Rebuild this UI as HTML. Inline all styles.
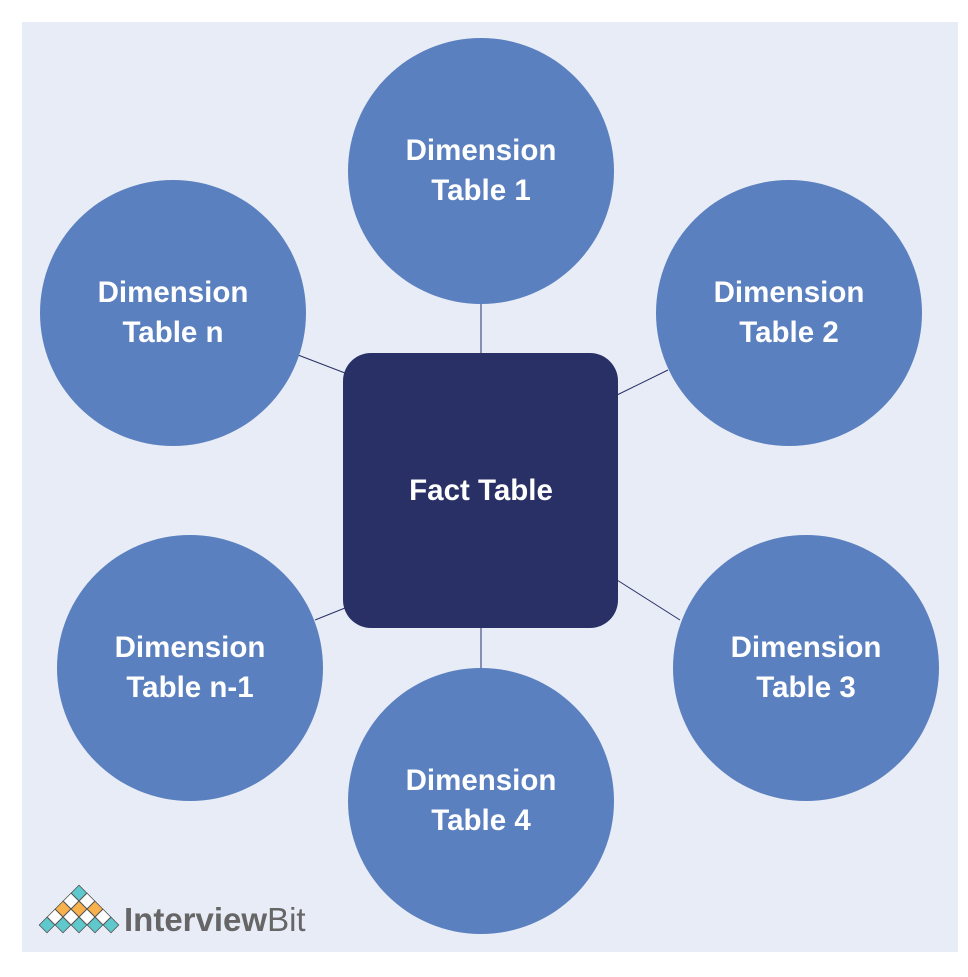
<!DOCTYPE html>
<html><head><style>
body{margin:0;background:#fff;width:968px;height:972px;overflow:hidden}
svg text{font-family:"Liberation Sans",sans-serif}
</style></head><body>
<svg width="968" height="972" viewBox="0 0 968 972">
<rect x="22" y="22" width="936" height="930" fill="#e8ecf6"/>
<g stroke="#283066" stroke-width="1">
<line x1="481" y1="300" x2="481" y2="355"/>
<line x1="481" y1="628" x2="481" y2="670"/>
<line x1="298" y1="355" x2="345" y2="373"/>
<line x1="668" y1="370" x2="617" y2="395"/>
<line x1="315" y1="620" x2="345" y2="608"/>
<line x1="617" y1="580" x2="680" y2="620"/>
</g>
<g fill="#5b80bf">
<circle cx="481" cy="171" r="133"/>
<circle cx="173" cy="313" r="133"/>
<circle cx="789" cy="313" r="133"/>
<circle cx="190" cy="668" r="133"/>
<circle cx="806" cy="668" r="133"/>
<circle cx="481" cy="801" r="133"/>
</g>
<rect x="343" y="353" width="275" height="275" rx="28" fill="#283066"/>
<g fill="#fff" font-size="29.5" font-weight="bold" text-anchor="middle">
<text x="481" y="160">Dimension</text><text x="481" y="200">Table 1</text>
<text x="173" y="302">Dimension</text><text x="173" y="342">Table n</text>
<text x="789" y="302">Dimension</text><text x="789" y="342">Table 2</text>
<text x="190" y="657">Dimension</text><text x="190" y="697">Table n-1</text>
<text x="806" y="657">Dimension</text><text x="806" y="697">Table 3</text>
<text x="481" y="790">Dimension</text><text x="481" y="830">Table 4</text>
<text x="481" y="500">Fact Table</text>
</g>
<g stroke="#555" stroke-width="0.8">
<g transform="translate(79,893) rotate(45)"><rect x="-5.5" y="-5.5" width="11" height="11" fill="#5ec8cc"/></g>
<g transform="translate(71,901) rotate(45)"><rect x="-5.5" y="-5.5" width="11" height="11" fill="#fff"/></g>
<g transform="translate(87,901) rotate(45)"><rect x="-5.5" y="-5.5" width="11" height="11" fill="#fff"/></g>
<g transform="translate(63,909) rotate(45)"><rect x="-5.5" y="-5.5" width="11" height="11" fill="#f8b14d"/></g>
<g transform="translate(79,909) rotate(45)"><rect x="-5.5" y="-5.5" width="11" height="11" fill="#f8b14d"/></g>
<g transform="translate(95,909) rotate(45)"><rect x="-5.5" y="-5.5" width="11" height="11" fill="#f8b14d"/></g>
<g transform="translate(55,917) rotate(45)"><rect x="-5.5" y="-5.5" width="11" height="11" fill="#fff"/></g>
<g transform="translate(71,917) rotate(45)"><rect x="-5.5" y="-5.5" width="11" height="11" fill="#fff"/></g>
<g transform="translate(87,917) rotate(45)"><rect x="-5.5" y="-5.5" width="11" height="11" fill="#fff"/></g>
<g transform="translate(103,917) rotate(45)"><rect x="-5.5" y="-5.5" width="11" height="11" fill="#fff"/></g>
<g transform="translate(47,925) rotate(45)"><rect x="-5.5" y="-5.5" width="11" height="11" fill="#5ec8cc"/></g>
<g transform="translate(63,925) rotate(45)"><rect x="-5.5" y="-5.5" width="11" height="11" fill="#5ec8cc"/></g>
<g transform="translate(79,925) rotate(45)"><rect x="-5.5" y="-5.5" width="11" height="11" fill="#5ec8cc"/></g>
<g transform="translate(95,925) rotate(45)"><rect x="-5.5" y="-5.5" width="11" height="11" fill="#5ec8cc"/></g>
<g transform="translate(111,925) rotate(45)"><rect x="-5.5" y="-5.5" width="11" height="11" fill="#5ec8cc"/></g>
</g>
<text x="124" y="931" font-size="33" font-weight="bold" fill="#666">Interview<tspan font-weight="normal">Bit</tspan></text>
</svg>
</body></html>
